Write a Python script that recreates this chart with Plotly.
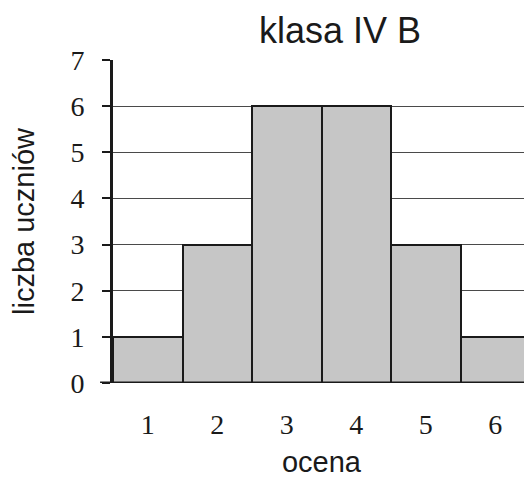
import plotly.graph_objects as go

grades = [1, 2, 3, 4, 5, 6]
students = [1, 3, 6, 6, 3, 1]
tick_labels = ["1", "2", "3", "4", "5", "6"]
y_ticks = [0, 1, 2, 3, 4, 5, 6, 7]

SANS = "Liberation Sans, Arial, sans-serif"
SERIF = "Liberation Serif, DejaVu Serif, serif"
INK = "#1a1a1a"

fig = go.Figure()
fig.add_trace(go.Bar(
    x=grades, y=students, width=1,
    marker=dict(color="#c6c6c6", line=dict(color=INK, width=2)),
))

fig.update_layout(
    width=532, height=478,
    margin=dict(l=105, r=10, t=52, b=103),
    paper_bgcolor="white", plot_bgcolor="white",
    bargap=0,
    showlegend=False,
    title=dict(text="klasa IV B", x=0.624, xanchor="center", y=0.954, yanchor="middle",
               font=dict(family=SANS, size=36, color=INK)),
    xaxis=dict(
        range=[0.5, 6.5], tickvals=grades, ticktext=tick_labels,
        showgrid=False, zeroline=False, showline=False, ticks="",
        tickfont=dict(family=SERIF, size=28, color=INK),
        ticklabelstandoff=22,
        automargin=False,
        title=dict(text="ocena", font=dict(family=SANS, size=29, color=INK), standoff=12),
    ),
    yaxis=dict(
        range=[0, 7], tickvals=y_ticks,
        showgrid=True, gridcolor="#4a4a4a", gridwidth=1,
        zeroline=False, showline=True, linecolor=INK, linewidth=3,
        ticks="outside", ticklen=8, tickwidth=2, tickcolor=INK,
        tickfont=dict(family=SERIF, size=28, color=INK),
        ticklabelstandoff=12,
        automargin=False,
        title=dict(text="liczba uczniów", font=dict(family=SANS, size=29, color=INK), standoff=30),
    ),
)

# baseline (x-axis line) extending slightly left of the y axis
fig.add_shape(type="line", xref="paper", yref="y", x0=-0.031, x1=1, y0=0, y1=0,
              line=dict(color=INK, width=3), layer="above")

fig.write_html("out.html")
